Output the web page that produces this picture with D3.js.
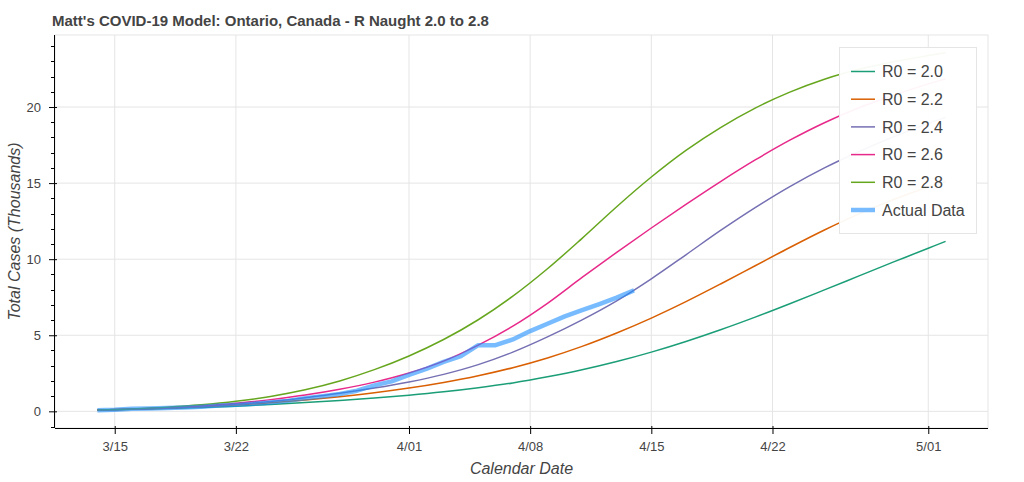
<!DOCTYPE html>
<html>
<head>
<meta charset="utf-8">
<script src="https://cdn.jsdelivr.net/npm/d3@7/dist/d3.min.js"></script>
<style>
  html, body { margin: 0; padding: 0; background: #fff; }
  svg { display: block; font-family: "Liberation Sans", Arial, Helvetica, sans-serif; }
</style>
</head>
<body>
<svg id="chart" width="1024" height="482"></svg>
<script>
// ---------- DATA ----------
const modelDates = ["2020-03-14","2020-03-16","2020-03-18","2020-03-20","2020-03-22","2020-03-24",
  "2020-03-26","2020-03-28","2020-03-30","2020-04-01","2020-04-03","2020-04-05","2020-04-07",
  "2020-04-09","2020-04-11","2020-04-13","2020-04-15","2020-04-17","2020-04-19","2020-04-21",
  "2020-04-23","2020-04-25","2020-04-27","2020-04-29","2020-05-01","2020-05-02"];
const r20 = [0.08,0.13,0.18,0.25,0.34,0.45,0.58,0.72,0.88,1.06,1.28,1.55,1.87,2.27,2.73,3.27,3.89,4.59,5.36,6.19,7.07,7.98,8.9,9.82,10.72,11.17];
const r22 = [0.08,0.14,0.21,0.3,0.41,0.56,0.74,0.96,1.22,1.53,1.9,2.34,2.87,3.51,4.27,5.15,6.13,7.21,8.37,9.57,10.77,11.92,12.98,13.92,14.74,15.1];
const r24 = [0.08,0.14,0.22,0.32,0.46,0.65,0.9,1.19,1.53,1.93,2.43,3.07,3.89,4.89,6.01,7.26,8.71,10.29,11.89,13.39,14.77,16.0,17.08,18.05,18.92,19.32];
const r26 = [0.08,0.15,0.24,0.36,0.53,0.77,1.07,1.45,1.92,2.52,3.3,4.35,5.6,7.1,8.8,10.45,12.05,13.6,15.1,16.52,17.82,18.97,19.95,20.77,21.52,21.85];
const r28 = [0.09,0.16,0.27,0.43,0.66,0.98,1.42,2.0,2.74,3.64,4.72,6.02,7.57,9.37,11.37,13.45,15.4,17.15,18.65,19.93,20.98,21.83,22.48,22.98,23.38,23.56];

const actualDates = ["2020-03-14","2020-03-15","2020-03-16","2020-03-17","2020-03-18","2020-03-19",
  "2020-03-20","2020-03-21","2020-03-22","2020-03-23","2020-03-24","2020-03-25","2020-03-26",
  "2020-03-27","2020-03-28","2020-03-29","2020-03-30","2020-03-31","2020-04-01","2020-04-02",
  "2020-04-03","2020-04-04","2020-04-05","2020-04-06","2020-04-07","2020-04-08","2020-04-09",
  "2020-04-10","2020-04-11","2020-04-12","2020-04-13","2020-04-14"];
const actual = [0.079,0.103,0.177,0.185,0.214,0.257,0.308,0.377,0.425,0.503,0.588,0.688,0.858,
  0.993,1.144,1.355,1.706,1.966,2.392,2.793,3.255,3.630,4.347,4.347,4.726,5.276,5.759,6.237,
  6.648,7.049,7.470,7.953];

const seriesNames = ["R0 = 2.0","R0 = 2.2","R0 = 2.4","R0 = 2.6","R0 = 2.8"];
const seriesColors = ["#1b9e77","#d95f02","#7570b3","#e7298a","#66a61e"];
const actualName = "Actual Data";
const xTickDates = ["2020-03-15","2020-03-22","2020-04-01","2020-04-08","2020-04-15","2020-04-22","2020-05-01"];
const yTicks = [0,5,10,15,20];
const titleText = "Matt's COVID-19 Model: Ontario, Canada - R Naught 2.0 to 2.8";
const xLabel = "Calendar Date";
const yLabel = "Total Cases (Thousands)";

// ---------- SETUP ----------
const parse = d3.utcParse("%Y-%m-%d");
const svg = d3.select("#chart");
const L = 55, R = 988, T = 35, B = 428;
const modelSeries = [r20, r22, r24, r26, r28];

const allDates = modelDates.map(parse).concat(actualDates.map(parse));
const [dMin, dMax] = d3.extent(allDates);
const span = dMax - dMin;
const x = d3.scaleUtc()
  .domain([new Date(+dMin - span * 0.05), new Date(+dMax + span * 0.05)])
  .range([L, R]);
const allVals = modelSeries.flat().concat(actual);
const [vMin, vMax] = d3.extent(allVals);
const vSpan = vMax - vMin;
const y = d3.scaleLinear()
  .domain([vMin - vSpan * 0.05, vMax + vSpan * 0.05])
  .range([B, T]);

// gridlines
const grid = svg.append("g");
grid.selectAll(".gx").data(xTickDates.map(parse)).enter().append("line")
  .attr("x1", d => x(d)).attr("x2", d => x(d)).attr("y1", T).attr("y2", B)
  .attr("stroke", "#e5e5e5").attr("stroke-width", 1);
grid.selectAll(".gy").data(yTicks).enter().append("line")
  .attr("x1", L).attr("x2", R).attr("y1", d => y(d)).attr("y2", d => y(d))
  .attr("stroke", "#e5e5e5").attr("stroke-width", 1);
// outline
svg.append("rect").attr("x", L).attr("y", T).attr("width", R - L).attr("height", B - T)
  .attr("fill", "none").attr("stroke", "#e5e5e5").attr("stroke-width", 1);

// lines
const line = d3.line().x(d => x(d[0])).y(d => y(d[1])).curve(d3.curveCatmullRom.alpha(0.5));
modelSeries.forEach((s, i) => {
  svg.append("path")
    .datum(modelDates.map((d, j) => [parse(d), s[j]]))
    .attr("fill", "none").attr("stroke", seriesColors[i]).attr("stroke-width", 1.5)
    .attr("d", line);
});
const lineA = d3.line().x(d => x(d[0])).y(d => y(d[1]));
svg.append("path")
  .datum(actualDates.map((d, j) => [parse(d), actual[j]]))
  .attr("fill", "none").attr("stroke", "dodgerblue").attr("stroke-opacity", 0.6)
  .attr("stroke-width", 4.5).attr("stroke-linejoin", "round")
  .attr("d", lineA);

// axes
const xAxis = d3.axisBottom(x).tickValues(xTickDates.map(parse))
  .tickFormat(d3.utcFormat("%-m/%d")).tickSizeInner(6).tickSizeOuter(0).tickPadding(8);
const gx = svg.append("g").attr("transform", `translate(0,${B})`).call(xAxis);
gx.select(".domain").attr("stroke", "#000").attr("d", `M${L},0.5H${R}`);
gx.selectAll(".tick line").attr("stroke", "#000").attr("y1", -2).attr("y2", 6);
gx.selectAll(".tick text").attr("fill", "#444").attr("font-size", 13).attr("dy", "0.71em")
  .style("font-family", "Liberation Sans, Arial, sans-serif");

const yAxis = d3.axisLeft(y).tickValues(yTicks).tickSizeInner(6).tickSizeOuter(0).tickPadding(8);
const gy = svg.append("g").attr("transform", `translate(${L},0)`).call(yAxis);
gy.select(".domain").attr("stroke", "#000").attr("d", `M-0.5,${T}V${B}`);
gy.selectAll(".tick line").attr("stroke", "#000").attr("x1", 2).attr("x2", -6);
gy.selectAll(".tick text").attr("fill", "#444").attr("font-size", 13)
  .style("font-family", "Liberation Sans, Arial, sans-serif");
// minor y ticks
const minor = d3.range(Math.ceil(y.domain()[0]), Math.floor(y.domain()[1]) + 1).filter(v => v % 5 !== 0);
gy.selectAll(".minor").data(minor).enter().append("line")
  .attr("x1", 0).attr("x2", -4).attr("y1", d => Math.round(y(d)) + 0.5).attr("y2", d => Math.round(y(d)) + 0.5)
  .attr("stroke", "#000");

// title & labels
svg.append("text").attr("x", 52).attr("y", 26).attr("font-size", 15).attr("font-weight", "bold")
  .attr("fill", "#444").text(titleText);
svg.append("text").attr("x", (L + R) / 2).attr("y", 474).attr("text-anchor", "middle")
  .attr("font-size", 16).attr("font-style", "italic").attr("fill", "#444").text(xLabel);
svg.append("text").attr("transform", `translate(20,${(T + B) / 2}) rotate(-90)`)
  .attr("text-anchor", "middle").attr("font-size", 16).attr("font-style", "italic")
  .attr("fill", "#444").text(yLabel);

// legend
const lg = svg.append("g");
lg.append("rect").attr("x", 839.5).attr("y", 47.5).attr("width", 137).attr("height", 186)
  .attr("fill", "#fff").attr("fill-opacity", 0.95).attr("stroke", "#e5e5e5");
const items = seriesNames.map((n, i) => ({ n, c: seriesColors[i], w: 1.5, o: 1 }))
  .concat([{ n: actualName, c: "dodgerblue", w: 4.5, o: 0.6 }]);
items.forEach((it, i) => {
  const cy = 71.5 + i * 27.7;
  lg.append("line").attr("x1", 851).attr("x2", 875).attr("y1", cy).attr("y2", cy)
    .attr("stroke", it.c).attr("stroke-width", it.w).attr("stroke-opacity", it.o);
  lg.append("text").attr("x", 882).attr("y", cy).attr("dy", "0.36em").attr("font-size", 16)
    .attr("fill", "#444").text(it.n);
});
</script>
</body>
</html>
